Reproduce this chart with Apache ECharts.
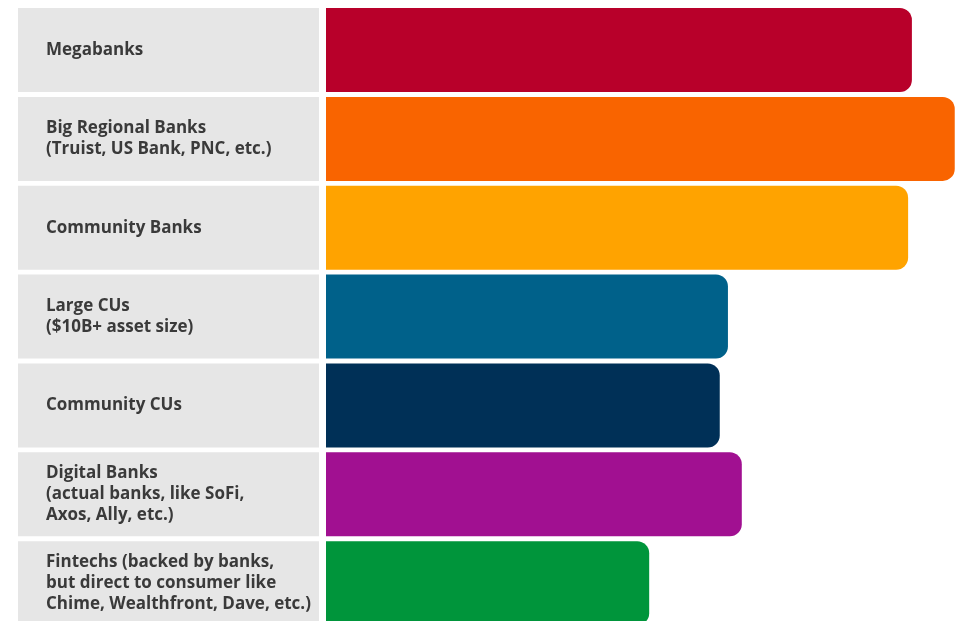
<!DOCTYPE html>
<html>
<head>
<meta charset="utf-8">
<script src="https://cdn.jsdelivr.net/npm/echarts@6/dist/echarts.min.js"></script>
<style>
html,body{margin:0;padding:0;background:#fff;overflow:hidden;}
#chart{width:956px;height:640px;}
</style>
</head>
<body>
<div id="chart"></div>
<script>
const categories = [
  "Megabanks",
  "Big Regional Banks\n(Truist, US Bank, PNC, etc.)",
  "Community Banks",
  "Large CUs\n($10B+ asset size)",
  "Community CUs",
  "Digital Banks\n(actual banks, like SoFi,\nAxos, Ally, etc.)",
  "Fintechs (backed by banks,\nbut direct to consumer like\nChime, Wealthfront, Dave, etc.)"
];
const values = [93.0, 99.8, 92.4, 63.8, 62.5, 66.0, 51.3];
const barColors = ["#B8002A", "#F96400", "#FFA300", "#00618A", "#003057", "#A11091", "#00953B"];

const chart = echarts.init(document.getElementById('chart'));
const gridTop = 5.6, gridH = 622;
chart.setOption({
  animation: false,
  grid: [
    {left: 18, width: 301, top: gridTop, height: gridH},
    {left: 326, width: 630, top: gridTop, height: gridH}
  ],
  xAxis: [
    {gridIndex: 0, type: 'value', min: 0, max: 1, show: false},
    {gridIndex: 1, type: 'value', min: 0, max: 100, show: false}
  ],
  yAxis: [
    {gridIndex: 0, type: 'category', data: categories, inverse: true, show: false},
    {gridIndex: 1, type: 'category', data: categories, inverse: true, show: false}
  ],
  series: [
    {
      type: 'bar', xAxisIndex: 0, yAxisIndex: 0, barWidth: 84,
      data: categories.map(() => 1),
      itemStyle: {color: '#E6E6E6'},
      silent: true,
      label: {
        show: true, position: [28, '50%'], align: 'left', verticalAlign: 'middle',
        formatter: p => p.name,
        fontFamily: '"Open Sans", sans-serif', fontWeight: 'bold', fontSize: 17,
        lineHeight: 21.3, color: '#3a3a3a'
      }
    },
    {
      type: 'bar', xAxisIndex: 1, yAxisIndex: 1, barWidth: 84,
      data: values.map((v, i) => ({value: v, itemStyle: {color: barColors[i]}})),
      itemStyle: {borderRadius: [0, 12, 12, 0]}
    }
  ]
});
</script>
</body>
</html>
